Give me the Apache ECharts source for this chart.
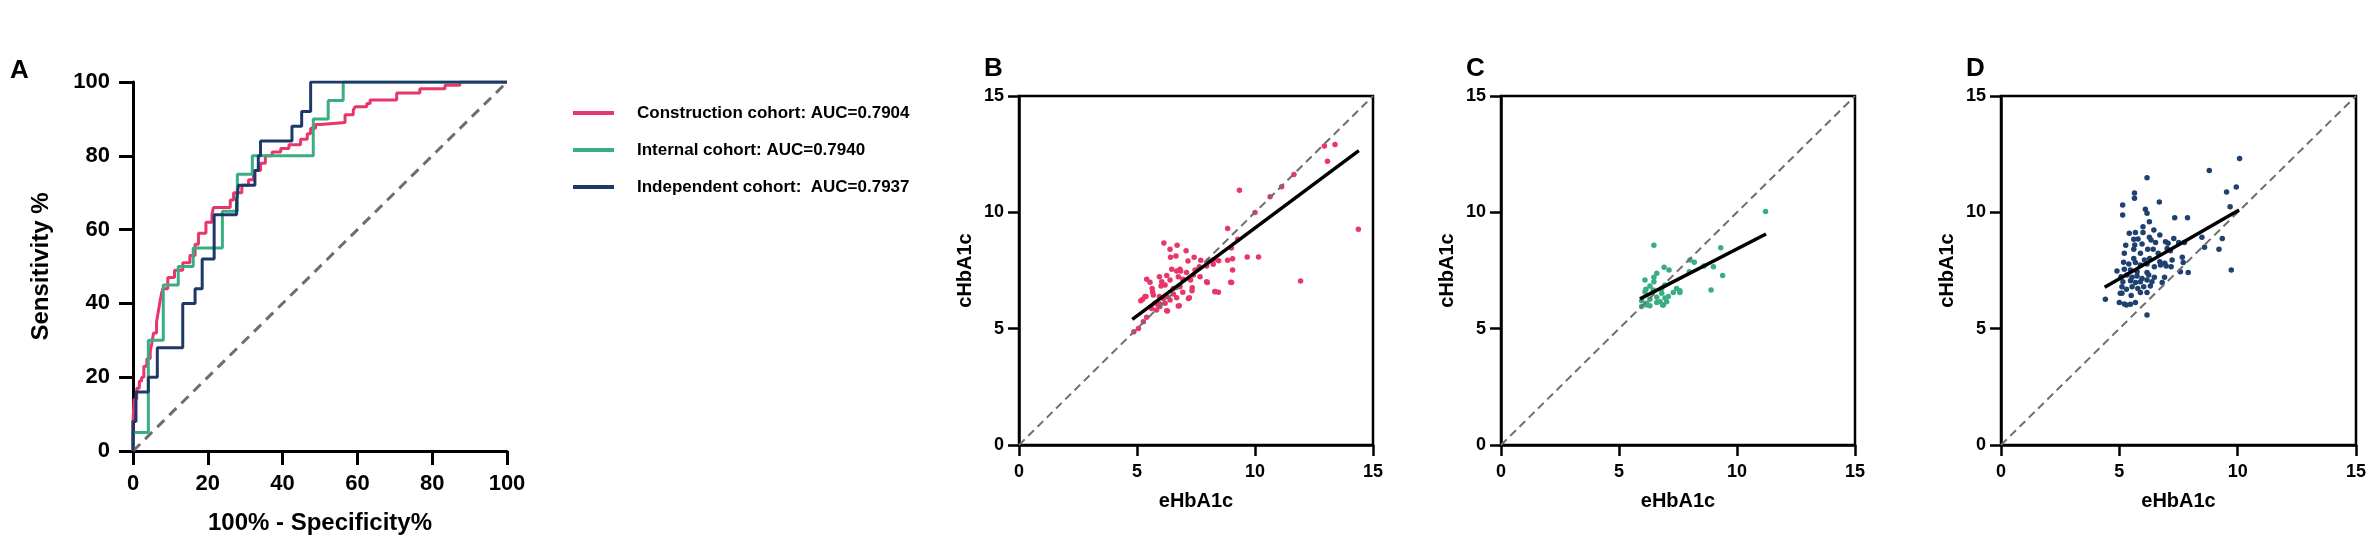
<!DOCTYPE html>
<html><head><meta charset="utf-8">
<script src="https://cdn.jsdelivr.net/npm/echarts@6/dist/echarts.min.js"></script>
<style>html,body{margin:0;padding:0;background:#fff}#c{width:2375px;height:546px}</style>
</head><body><div id="c"></div>
<script>
// ---------- Data ----------
const rocTicks = [0, 20, 40, 60, 80, 100];
const scatterTicks = [0, 5, 10, 15];
const legendNames = ['Construction cohort: AUC=0.7904', 'Internal cohort: AUC=0.7940', 'Independent cohort:  AUC=0.7937'];

// ROC points [100%-Specificity%, Sensitivity%] (step rises)
const rocConstruction = [[0,0],[0,8],[0.3,14],[1.0,17],[1.7,19],[2.3,20],[2.9,23],[3.7,25],[4.6,27],[5.0,29],[5.5,32],[6.3,35],[6.8,38],[7.3,41],[7.7,43],[8.0,44],[9.3,47],[11.1,49],[13.3,51],[15.2,53],[16.6,56],[17.5,59],[19.5,62],[21.1,64],[21.5,66],[26.0,68],[26.9,70],[29.1,72],[30.9,73.5],[32.2,76],[34.1,78],[35.4,80],[37.2,81],[39.5,82],[41.7,83],[44.8,84.5],[46.6,86],[47.5,87.5],[48.8,88.5],[50.1,89],[56.7,91.1],[58.9,92.4],[59.4,93.3],[62.5,94.2],[63.4,95.1],[70.5,97],[76.7,98.2],[83.4,99.1],[87.4,100],[100,100]];
const rocInternal = [[0,0],[0,5],[4.1,30],[8.1,45],[12.1,50],[16.1,55],[23.9,65],[27.9,75],[31.9,80],[48.2,90],[52.2,95],[56.2,100],[100,100]];
const rocIndependent = [[0,0],[0,8],[0.8,16],[4.1,20],[6.5,28],[13.3,40],[16.6,44],[18.5,52],[21.7,64],[27.7,68],[28.2,72],[32.6,76],[33.5,80],[34.1,84],[42.5,88],[45.1,92],[47.5,100],[100,100]];
const rocReference = [[0,0],[100,100]];

// Scatter points [eHbA1c, cHbA1c]
const scatterB = [[9.34,10.95],[10.0,9.99],[8.84,9.31],[9.27,8.84],[9.05,8.0],[9.67,8.08],[10.15,8.08],[9.0,8.47],[8.84,7.94],[9.05,7.52],[8.97,6.99],[8.3,6.6],[8.45,6.56],[6.14,8.68],[6.7,8.58],[6.4,8.41],[6.65,8.12],[6.42,8.07],[7.08,8.35],[7.42,8.07],[7.16,7.91],[7.7,7.94],[8.02,7.92],[8.23,7.95],[8.46,7.92],[7.95,7.69],[8.23,7.77],[7.64,7.66],[7.46,7.52],[6.47,7.55],[6.82,7.55],[6.68,7.48],[6.85,7.48],[7.1,7.41],[7.39,7.31],[7.67,7.23],[7.95,7.02],[5.41,7.12],[5.55,6.99],[5.95,7.23],[6.26,7.28],[6.05,7.02],[6.4,7.09],[6.75,7.23],[6.94,7.12],[7.27,7.09],[5.64,6.73],[6.02,6.83],[6.19,6.88],[6.54,6.73],[6.82,6.8],[7.34,6.76],[5.24,6.26],[5.38,6.38],[5.69,6.45],[5.95,6.38],[6.26,6.38],[6.54,6.49],[6.94,6.56],[7.22,6.33],[7.33,6.63],[5.76,6.09],[5.97,6.06],[6.19,6.09],[6.4,6.23],[6.75,5.97],[5.83,5.8],[6.26,5.77],[6.79,5.99],[5.97,5.95],[4.87,4.87],[5.06,5.01],[5.27,5.3],[5.41,5.49],[5.16,6.2],[5.34,6.38],[5.66,6.59],[5.62,5.87],[5.9,6.02],[6.29,5.76],[6.12,6.3],[6.68,6.33],[7.18,6.3],[7.98,6.98],[8.31,6.59],[9.01,6.98],[11.93,7.05],[10.64,10.67],[11.13,11.1],[11.65,11.63],[12.94,12.85],[13.39,12.92],[13.07,12.2],[14.38,9.27]];
const scatterC = [[11.21,10.04],[6.48,8.58],[9.31,8.48],[8.01,7.95],[8.19,7.85],[6.91,7.64],[7.12,7.52],[6.6,7.38],[7.98,7.45],[8.6,7.69],[9.0,7.66],[9.39,7.29],[6.1,7.09],[6.48,7.21],[6.48,7.02],[6.31,6.83],[6.14,6.69],[6.1,6.59],[6.45,6.66],[6.81,6.73],[6.95,6.88],[7.44,6.73],[7.58,6.63],[7.58,6.55],[7.3,6.55],[8.9,6.66],[6.81,6.52],[6.6,6.35],[6.95,6.32],[7.09,6.38],[6.31,6.26],[5.96,6.2],[6.17,6.09],[6.31,5.99],[6.74,6.16],[6.85,6.02],[5.96,5.95],[6.17,6.02],[6.6,6.12],[6.88,6.02],[7.02,6.16]];
const scatterD = [[10.08,12.31],[8.8,11.8],[6.17,11.49],[9.94,11.09],[9.53,10.87],[5.64,10.83],[5.64,10.6],[6.69,10.44],[5.14,10.32],[9.68,10.24],[6.1,10.13],[6.17,9.96],[5.14,9.89],[7.34,9.77],[7.88,9.77],[6.27,9.6],[6.0,9.38],[6.46,9.24],[5.42,9.1],[5.68,9.13],[6.0,9.13],[6.71,9.03],[5.61,8.84],[5.79,8.85],[6.27,8.93],[6.34,8.81],[6.53,8.7],[6.95,8.74],[7.06,8.67],[7.3,8.88],[7.51,8.7],[7.75,8.7],[8.49,8.93],[9.35,8.87],[5.27,8.58],[5.65,8.6],[5.96,8.64],[5.61,8.41],[6.2,8.41],[6.43,8.41],[6.64,8.24],[7.02,8.45],[7.16,8.35],[8.6,8.5],[9.21,8.41],[5.21,8.24],[5.89,8.24],[5.61,8.02],[6.06,7.95],[6.28,8.02],[6.71,7.88],[6.92,7.81],[7.23,7.95],[7.66,8.07],[7.7,7.84],[5.18,7.85],[5.4,7.78],[5.68,7.84],[5.89,7.74],[6.17,7.78],[6.48,7.66],[6.74,7.74],[6.98,7.69],[7.19,7.66],[4.9,7.48],[5.21,7.55],[5.47,7.52],[5.75,7.45],[6.17,7.41],[7.58,7.45],[7.91,7.41],[9.73,7.52],[5.07,7.23],[5.32,7.31],[5.54,7.21],[5.75,7.26],[5.96,7.16],[6.24,7.31],[6.48,7.21],[6.91,7.21],[5.15,7.02],[5.47,7.06],[5.68,6.98],[5.89,7.02],[6.17,7.09],[6.38,7.02],[6.81,6.98],[5.11,6.8],[5.3,6.69],[5.54,6.8],[5.78,6.73],[6.03,6.8],[6.31,6.83],[5.11,6.52],[5.5,6.43],[5.89,6.55],[6.17,6.55],[4.41,6.26],[5.0,6.12],[5.3,6.02],[5.47,6.05],[5.68,6.12],[6.17,5.59],[5.04,6.52],[5.21,6.06]];
const fitB = [[4.8,5.4],[14.4,12.65]];
const fitC = [[5.89,6.28],[11.23,9.07]];
const fitD = [[4.38,6.78],[10.06,10.1]];
const identityLine = [[0,0],[15,15]];

// ---------- Styles ----------
const FONT = '"Liberation Sans", Arial, Helvetica, sans-serif';
const RED = '#E8366B', GREEN = '#3AAE83', NAVY = '#1D3869', NAVY_DOT = '#1F4070';
const black = '#000';

function rocAxis(isX) {
  return {
    gridIndex: 0, type: 'value', min: rocTicks[0], max: rocTicks[rocTicks.length-1], interval: rocTicks[1]-rocTicks[0],
    axisLine: {show: true, onZero: false, lineStyle: {color: black, width: 3}},
    axisTick: {show: true, length: 14, lineStyle: {color: black, width: 3}},
    axisLabel: {margin: isX ? 22 : 23, fontSize: 22, fontWeight: 'bold', color: black, fontFamily: FONT},
    splitLine: {show: false},
    name: isX ? '100% - Specificity%' : 'Sensitivity %',
    nameLocation: 'middle', nameGap: isX ? 60 : 80,
    nameTextStyle: {fontSize: 24, fontWeight: 'bold', color: black, fontFamily: FONT}
  };
}
function scAxis(gi, isX) {
  return {
    gridIndex: gi, type: 'value', min: scatterTicks[0], max: scatterTicks[scatterTicks.length-1], interval: scatterTicks[1]-scatterTicks[0],
    axisLine: {show: true, onZero: false, lineStyle: {color: black, width: 2.5}},
    axisTick: {show: true, length: 11, lineStyle: {color: black, width: 2.5}},
    axisLabel: {margin: isX ? 18 : 15, fontSize: 18, fontWeight: 'bold', color: black, fontFamily: FONT},
    splitLine: {show: false},
    name: isX ? 'eHbA1c' : 'cHbA1c',
    nameLocation: 'middle', nameGap: isX ? 46 : 44,
    nameTextStyle: {fontSize: 20, fontWeight: 'bold', color: black, fontFamily: FONT}
  };
}
const gridBox = {show: true, borderColor: black, borderWidth: 2.5, backgroundColor: 'transparent'};

function rocLine(name, data, color) {
  return {name, type: 'line', xAxisIndex: 0, yAxisIndex: 0, data, step: 'end', showSymbol: false, symbol: 'none',
    color, lineStyle: {color, width: 3}, z: 3, silent: true, animation: false};
}
function dashed(data, xi, width, dash) {
  return {type: 'line', xAxisIndex: xi, yAxisIndex: xi, data, showSymbol: false, symbol: 'none',
    lineStyle: {color: '#6e6e6e', width, type: dash}, z: 4, silent: true, animation: false};
}
function dots(data, xi, color) {
  return {type: 'scatter', xAxisIndex: xi, yAxisIndex: xi, data, symbolSize: 5.5,
    itemStyle: {color, opacity: 1}, z: 2, silent: true, animation: false};
}
function fit(data, xi) {
  return {type: 'line', xAxisIndex: xi, yAxisIndex: xi, data, showSymbol: false, symbol: 'none',
    lineStyle: {color: black, width: 3.5}, z: 5, silent: true, animation: false};
}
function panelLabel(t, x, y) {
  return {type: 'text', left: x, top: y, style: {text: t, font: 'bold 26px ' + FONT, fill: black}};
}

const option = {
  backgroundColor: '#fff',
  animation: false,
  grid: [
    {left: 133, top: 82, width: 374, height: 369},
    Object.assign({left: 1019, top: 96, width: 354, height: 349}, gridBox),
    Object.assign({left: 1501, top: 96, width: 354, height: 349}, gridBox),
    Object.assign({left: 2001, top: 96, width: 355, height: 349}, gridBox)
  ],
  xAxis: [rocAxis(true), scAxis(1, true), scAxis(2, true), scAxis(3, true)],
  yAxis: [rocAxis(false), scAxis(1, false), scAxis(2, false), scAxis(3, false)],
  legend: {
    data: legendNames, orient: 'vertical', left: 568, top: 98, itemGap: 17,
    icon: 'rect', itemWidth: 41, itemHeight: 4, selectedMode: false,
    textStyle: {fontSize: 17, fontWeight: 'bold', color: black, fontFamily: FONT, lineHeight: 20, padding: [0, 0, 0, 18]}
  },
  graphic: [
    panelLabel('A', 10, 58), panelLabel('B', 984, 56), panelLabel('C', 1466, 56), panelLabel('D', 1966, 56)
  ],
  series: [
    Object.assign(dashed(rocReference, 0, 3, [10, 7]), {z: 1}),
    rocLine(legendNames[0], rocConstruction, RED),
    rocLine(legendNames[1], rocInternal, GREEN),
    rocLine(legendNames[2], rocIndependent, NAVY),
    dots(scatterB, 1, RED), dashed(identityLine, 1, 2, [8, 5]), fit(fitB, 1),
    dots(scatterC, 2, GREEN), dashed(identityLine, 2, 2, [8, 5]), fit(fitC, 2),
    dots(scatterD, 3, NAVY_DOT), dashed(identityLine, 3, 2, [8, 5]), fit(fitD, 3)
  ]
};
const chart = echarts.init(document.getElementById('c'), null, {renderer: 'canvas'});
chart.setOption(option);
</script></body></html>
